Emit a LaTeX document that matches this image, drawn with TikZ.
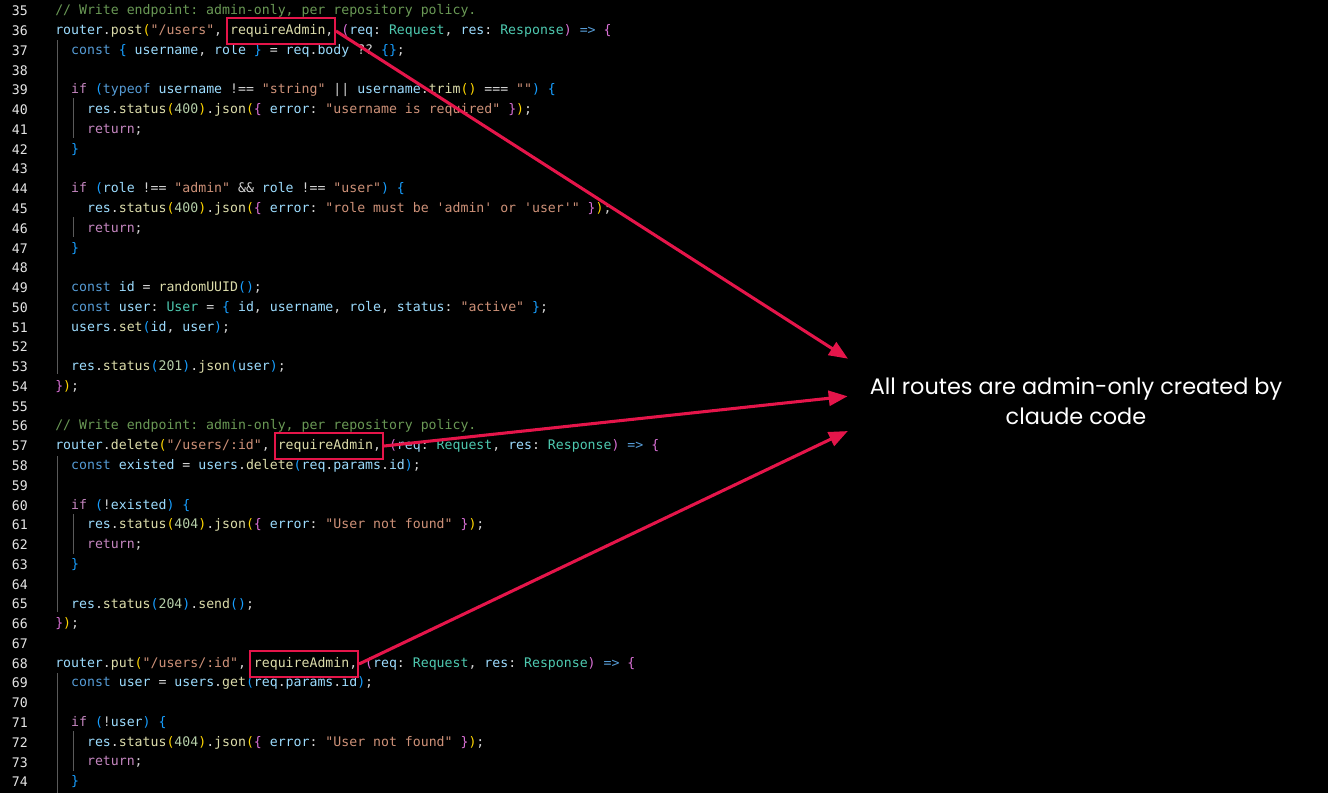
\documentclass[tikz,border=0pt]{standalone}
\usepackage{fontspec}
\setmonofont{DejaVu Sans Mono}
\newfontfamily\notefont{Poppins}
\usetikzlibrary{arrows, positioning}
\definecolor{bgc}{HTML}{000000}
\definecolor{plain}{HTML}{D4D4D4}
\definecolor{cmc}{HTML}{6A9955}
\definecolor{kwc}{HTML}{569CD6}
\definecolor{ctl}{HTML}{C586C0}
\definecolor{idc}{HTML}{9CDCFE}
\definecolor{fnc}{HTML}{DCDCAA}
\definecolor{stc}{HTML}{CE9178}
\definecolor{tyc}{HTML}{4EC9B0}
\definecolor{nmc}{HTML}{B5CEA8}
\definecolor{bra}{HTML}{FFD700}
\definecolor{brb}{HTML}{DA70D6}
\definecolor{brc}{HTML}{179FFF}
\definecolor{mark}{HTML}{E5154A}
\definecolor{guide}{HTML}{5A5A5A}
\newcommand\cm[1]{\textcolor{cmc}{#1}}
\newcommand\kw[1]{\textcolor{kwc}{#1}}
\newcommand\ct[1]{\textcolor{ctl}{#1}}
\newcommand\vr[1]{\textcolor{idc}{#1}}
\newcommand\fn[1]{\textcolor{fnc}{#1}}
\newcommand\st[1]{\textcolor{stc}{#1}}
\newcommand\ty[1]{\textcolor{tyc}{#1}}
\newcommand\nm[1]{\textcolor{nmc}{#1}}
\newcommand\ba[1]{\textcolor{bra}{#1}}
\newcommand\bb[1]{\textcolor{brb}{#1}}
\newcommand\bc[1]{\textcolor{brc}{#1}}
% one code line: line number, indent (chars), text
\newcommand\codeline[3]{\node[code] at ({55+7.95*#2},{11+(#1-35)*19.77}) {#3};}
\tikzset{
  code/.style={anchor=west, inner sep=0pt, font=\ttfamily\fontsize{9.9}{11}\selectfont, text=plain},
  num/.style={anchor=east, inner sep=0pt, font=\ttfamily\fontsize{9.9}{11}\selectfont, text=white!90!black},
  hl/.style={draw=mark, line width=1.5pt, inner sep=0pt, minimum width=81pt, minimum height=19.5pt},
  arr/.style={draw=mark, line width=2.3pt, ->, >=triangle 45, shorten >=2pt},
  guideline/.style={guide, line width=0.6pt}
}
\begin{document}
\begin{tikzpicture}[x=0.75pt, y=-0.75pt]
\fill[bgc] (0,0) rectangle (1328,793);
\useasboundingbox (0,0) rectangle (1328,793);
% indent guides
\draw[guideline] (57,40) -- (57,374);
\draw[guideline] (73,98) -- (73,138);
\draw[guideline] (73,217) -- (73,237);
\draw[guideline] (57,456) -- (57,612);
\draw[guideline] (73,514) -- (73,554);
\draw[guideline] (57,673) -- (57,793);
\draw[guideline] (73,731) -- (73,771);
% line numbers
\foreach \n in {35,...,74}
  \node[num] at (28,{11+(\n-35)*19.77}) {\n};
% code
\codeline{35}{0}{\cm{// Write endpoint: admin-only, per repository policy.}}
\codeline{36}{0}{\vr{router}.\fn{post}\ba{(}\st{"/users"}, \fn{requireAdmin}, \bb{(}\vr{req}: \ty{Request}, \vr{res}: \ty{Response}\bb{)} \kw{=>} \bb{\{}}
\codeline{37}{2}{\kw{const} \bc{\{} \vr{username}, \vr{role} \bc{\}} = \vr{req}.\vr{body} ?? \bc{\{\}};}
\codeline{39}{2}{\ct{if} \bc{(}\kw{typeof} \vr{username} !== \st{"string"} || \vr{username}.\fn{trim}\ba{()} === \st{""}\bc{)} \bc{\{}}
\codeline{40}{4}{\vr{res}.\fn{status}\ba{(}\nm{400}\ba{)}.\fn{json}\ba{(}\bb{\{} \vr{error}: \st{"username is required"} \bb{\}}\ba{)};}
\codeline{41}{4}{\ct{return};}
\codeline{42}{2}{\bc{\}}}
\codeline{44}{2}{\ct{if} \bc{(}\vr{role} !== \st{"admin"} \&\& \vr{role} !== \st{"user"}\bc{)} \bc{\{}}
\codeline{45}{4}{\vr{res}.\fn{status}\ba{(}\nm{400}\ba{)}.\fn{json}\ba{(}\bb{\{} \vr{error}: \st{"role must be 'admin' or 'user'"} \bb{\}}\ba{)};}
\codeline{46}{4}{\ct{return};}
\codeline{47}{2}{\bc{\}}}
\codeline{49}{2}{\kw{const} \vr{id} = \fn{randomUUID}\bc{()};}
\codeline{50}{2}{\kw{const} \vr{user}: \ty{User} = \bc{\{} \vr{id}, \vr{username}, \vr{role}, \vr{status}: \st{"active"} \bc{\}};}
\codeline{51}{2}{\vr{users}.\fn{set}\bc{(}\vr{id}, \vr{user}\bc{)};}
\codeline{53}{2}{\vr{res}.\fn{status}\bc{(}\nm{201}\bc{)}.\fn{json}\bc{(}\vr{user}\bc{)};}
\codeline{54}{0}{\bb{\}}\ba{)};}
\codeline{56}{0}{\cm{// Write endpoint: admin-only, per repository policy.}}
\codeline{57}{0}{\vr{router}.\fn{delete}\ba{(}\st{"/users/:id"}, \fn{requireAdmin}, \bb{(}\vr{req}: \ty{Request}, \vr{res}: \ty{Response}\bb{)} \kw{=>} \bb{\{}}
\codeline{58}{2}{\kw{const} \vr{existed} = \vr{users}.\fn{delete}\bc{(}\vr{req}.\vr{params}.\vr{id}\bc{)};}
\codeline{60}{2}{\ct{if} \bc{(}!\vr{existed}\bc{)} \bc{\{}}
\codeline{61}{4}{\vr{res}.\fn{status}\ba{(}\nm{404}\ba{)}.\fn{json}\ba{(}\bb{\{} \vr{error}: \st{"User not found"} \bb{\}}\ba{)};}
\codeline{62}{4}{\ct{return};}
\codeline{63}{2}{\bc{\}}}
\codeline{65}{2}{\vr{res}.\fn{status}\bc{(}\nm{204}\bc{)}.\fn{send}\bc{()};}
\codeline{66}{0}{\bb{\}}\ba{)};}
\codeline{68}{0}{\vr{router}.\fn{put}\ba{(}\st{"/users/:id"}, \fn{requireAdmin}, \bb{(}\vr{req}: \ty{Request}, \vr{res}: \ty{Response}\bb{)} \kw{=>} \bb{\{}}
\codeline{69}{2}{\kw{const} \vr{user} = \vr{users}.\fn{get}\bc{(}\vr{req}.\vr{params}.\vr{id}\bc{)};}
\codeline{71}{2}{\ct{if} \bc{(}!\vr{user}\bc{)} \bc{\{}}
\codeline{72}{4}{\vr{res}.\fn{status}\ba{(}\nm{404}\ba{)}.\fn{json}\ba{(}\bb{\{} \vr{error}: \st{"User not found"} \bb{\}}\ba{)};}
\codeline{73}{4}{\ct{return};}
\codeline{74}{2}{\bc{\}}}
% highlight boxes
\node[hl] (post) at (281,31) {};
\node[hl] (del) at (329,446) {};
\node[hl] (put) at (304,664) {};
% note
\node[text=white, align=center, font=\notefont\fontsize{16.8}{22.5}\selectfont] (note) at (1076,401)
  {All routes are admin-only created by\\claude code};
\coordinate (n1) at (850,360);
\coordinate (n2) at (850,396);
\coordinate (n3) at (850,430);
\draw[arr] (post.east) -- (n1);
\draw[arr] (del.east) -- (n2);
\draw[arr] (put.east) -- (n3);
\end{tikzpicture}
\end{document}
